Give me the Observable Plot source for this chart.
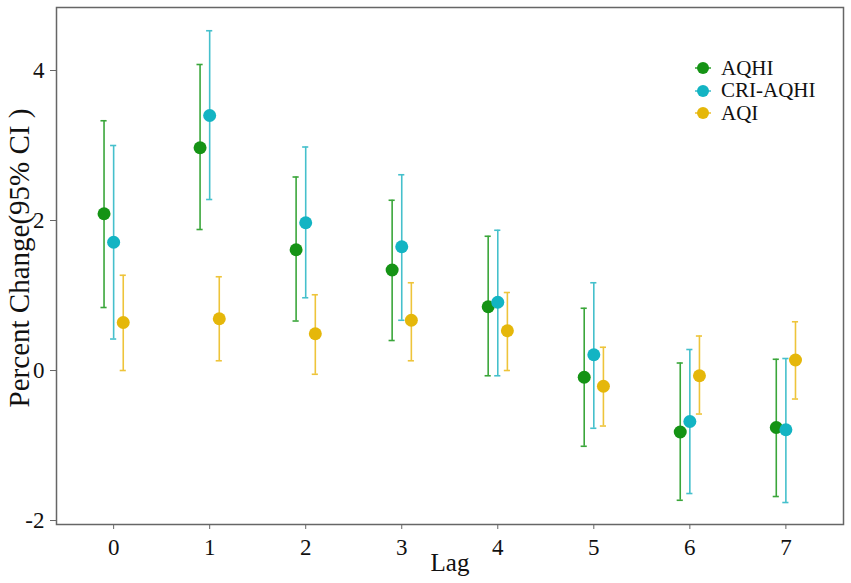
<!DOCTYPE html>
<html>
<head>
<meta charset="utf-8">
<script src="https://cdn.jsdelivr.net/npm/d3@7"></script>
<script src="https://cdn.jsdelivr.net/npm/@observablehq/plot@0.6"></script>
<style>
  html, body { margin: 0; padding: 0; background: #fff; }
  #wrap { position: relative; width: 851px; height: 583px; font-family: "Times New Roman", Tinos, "Liberation Serif", Times, serif; }
  #chart g[aria-label="x-axis tick label"], #chart g[aria-label="y-axis tick label"] { font-size: 23px !important; }
  #chart g[aria-label="x-axis tick label"] text, #chart g[aria-label="y-axis tick label"] text { font-size: 23px !important; }
  #legend { position: absolute; left: 694px; top: 57px; font-size: 21px; line-height: 21px; color: #111; }
  #legend .item { display: flex; align-items: center; height: 22.5px; }
  #legend svg { margin-right: 9px; }
</style>
</head>
<body>
<div id="wrap"><div id="chart"></div><div id="legend"></div></div>
<script>
const lags = [0, 1, 2, 3, 4, 5, 6, 7];
const seriesNames = ["AQHI", "CRI-AQHI", "AQI"];
const pointColors = ["#159315", "#13b4c3", "#e5b70a"];
const barColors = ["#3aa63a", "#45c0cc", "#eec43a"];
const offsets = [-0.1, 0, 0.1];

const aqhiEst = [2.09, 2.97, 1.61, 1.34, 0.85, -0.09, -0.82, -0.76];
const aqhiLo  = [0.84, 1.88, 0.66, 0.40, -0.07, -1.01, -1.73, -1.68];
const aqhiHi  = [3.33, 4.08, 2.58, 2.27, 1.79, 0.83, 0.10, 0.15];

const criEst = [1.71, 3.40, 1.97, 1.65, 0.91, 0.21, -0.68, -0.79];
const criLo  = [0.42, 2.28, 0.97, 0.67, -0.07, -0.77, -1.64, -1.76];
const criHi  = [3.00, 4.53, 2.98, 2.61, 1.87, 1.17, 0.28, 0.16];

const aqiEst = [0.64, 0.69, 0.49, 0.67, 0.53, -0.21, -0.07, 0.14];
const aqiLo  = [0.00, 0.13, -0.05, 0.13, 0.00, -0.74, -0.58, -0.38];
const aqiHi  = [1.27, 1.25, 1.01, 1.17, 1.04, 0.31, 0.46, 0.65];

const yTicks = [-2, 0, 2, 4];

const est = [aqhiEst, criEst, aqiEst];
const lo = [aqhiLo, criLo, aqiLo];
const hi = [aqhiHi, criHi, aqiHi];

const rows = [];
seriesNames.forEach((s, si) => {
  lags.forEach((lag, li) => {
    rows.push({series: s, si, lag, x: lag + offsets[si], est: est[si][li], lo: lo[si][li], hi: hi[si][li]});
  });
});

const capHalf = 0.032;
const font = "'Times New Roman', Tinos, 'Liberation Serif', Times, serif";

const chart = Plot.plot({
  width: 851,
  height: 583,
  marginLeft: 56,
  marginRight: 8,
  marginTop: 7,
  marginBottom: 59,
  style: {fontFamily: font, fontSize: "23px", color: "#111", background: "#fff"},
  x: {domain: [-0.595, 7.6], ticks: lags, tickFormat: d => String(d), label: null},
  y: {domain: [-2.053, 4.84], ticks: yTicks, tickFormat: d => String(d), label: null},
  marks: [
    Plot.ruleX(rows, {x: "x", y1: "lo", y2: "hi", stroke: d => barColors[d.si], strokeWidth: 1.6}),
    Plot.ruleY(rows, {y: "hi", x1: d => d.x - capHalf, x2: d => d.x + capHalf, stroke: d => barColors[d.si], strokeWidth: 1.6}),
    Plot.ruleY(rows, {y: "lo", x1: d => d.x - capHalf, x2: d => d.x + capHalf, stroke: d => barColors[d.si], strokeWidth: 1.6}),
    Plot.dot(rows, {x: "x", y: "est", r: 6.5, fill: d => pointColors[d.si], stroke: "none"}),
    Plot.frame({stroke: "#666", strokeWidth: 1.5}),
    Plot.axisX({ticks: lags, tickSize: 5, tickPadding: 9, stroke: "#666", fontSize: 23, label: null, tickFormat: d => String(d)}),
    Plot.axisY({ticks: yTicks, tickSize: 6, tickPadding: 6, stroke: "#666", fontSize: 23, label: null, tickFormat: d => String(d)}),
    Plot.text(["Lag"], {frameAnchor: "bottom", dy: 46, text: d => d, fontSize: 25, fill: "#111"}),
    Plot.text(["Percent Change(95% CI )"], {frameAnchor: "left", textAnchor: "middle", dx: -37, dy: -8, rotate: -90, text: d => d, fontSize: 29, fill: "#111"})
  ]
});
document.getElementById("chart").appendChild(chart);

const legend = document.getElementById("legend");
seriesNames.forEach((s, i) => {
  const item = document.createElement("div");
  item.className = "item";
  item.innerHTML = `<svg width="18" height="14"><line x1="1" x2="17" y1="7" y2="7" stroke="${barColors[i]}" stroke-width="1.6"/><circle cx="9" cy="7" r="6" fill="${pointColors[i]}"/></svg><span>${s}</span>`;
  legend.appendChild(item);
});
</script>
</body>
</html>
